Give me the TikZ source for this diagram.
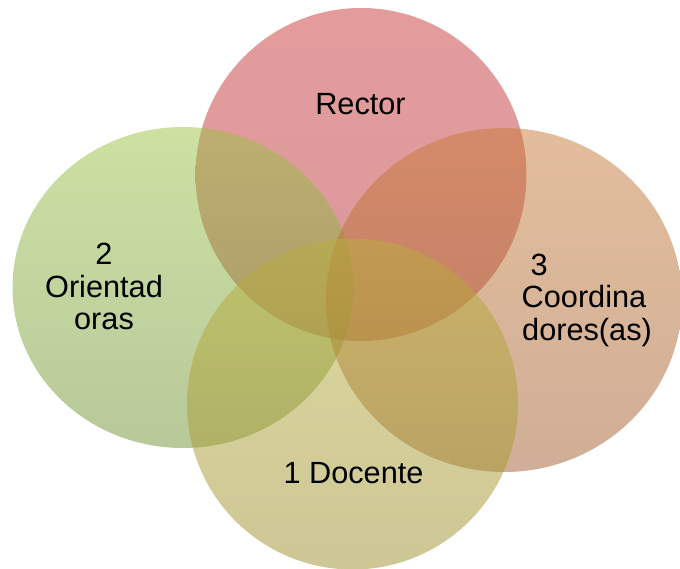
\documentclass[tikz,border=0pt]{standalone}
\usepackage{fontspec}
\setmainfont{Liberation Sans}
\usetikzlibrary{shapes.geometric}
\definecolor{pinkT}{RGB}{201,56,58}
\definecolor{pinkB}{RGB}{180,52,56}
\definecolor{greenT}{RGB}{155,195,70}
\definecolor{greenB}{RGB}{113,147,53}
\definecolor{peachT}{RGB}{200,124,56}
\definecolor{peachB}{RGB}{161,93,47}
\definecolor{oliveT}{RGB}{186,176,62}
\definecolor{oliveB}{RGB}{157,143,45}
\tikzset{
  venn/.style={ellipse, inner sep=0pt, outer sep=0pt, draw=none, fill opacity=0.5},
  lbl/.style={inner sep=0pt, font=\fontsize{30.7}{36}\selectfont, text=black},
}
\begin{document}
\begin{tikzpicture}[x=1pt,y=-1pt]
\useasboundingbox (0,0) rectangle (680,569);
\node[venn, minimum width=331pt, minimum height=333pt, top color=pinkT, bottom color=pinkB] (rector) at (361,174.5) {};
\node[venn, minimum width=341pt, minimum height=321pt, top color=greenT, bottom color=greenB] (orient) at (183,287.5) {};
\node[venn, minimum width=356pt, minimum height=344pt, top color=peachT, bottom color=peachB] (coord) at (504,300) {};
\node[venn, minimum width=331pt, minimum height=331pt, top color=oliveT, bottom color=oliveB] (doc) at (352.5,404) {};
\node[lbl, anchor=base] (tR) at (360.5,115) {Rector};
\node[lbl, anchor=base] (tO1) at (104,265) {2};
\node[lbl, anchor=base] (tO2) at (104,298) {Orientad};
\node[lbl, anchor=base] (tO3) at (104,330) {oras};
\node[lbl, anchor=base west] (tC1) at (530.5,276) {3};
\node[lbl, anchor=base west] (tC2) at (521.5,308) {Coordina};
\node[lbl, anchor=base west] (tC3) at (522,340) {dores(as)};
\node[lbl, anchor=base] (tD) at (353.5,483) {1 Docente};
\end{tikzpicture}
\end{document}
